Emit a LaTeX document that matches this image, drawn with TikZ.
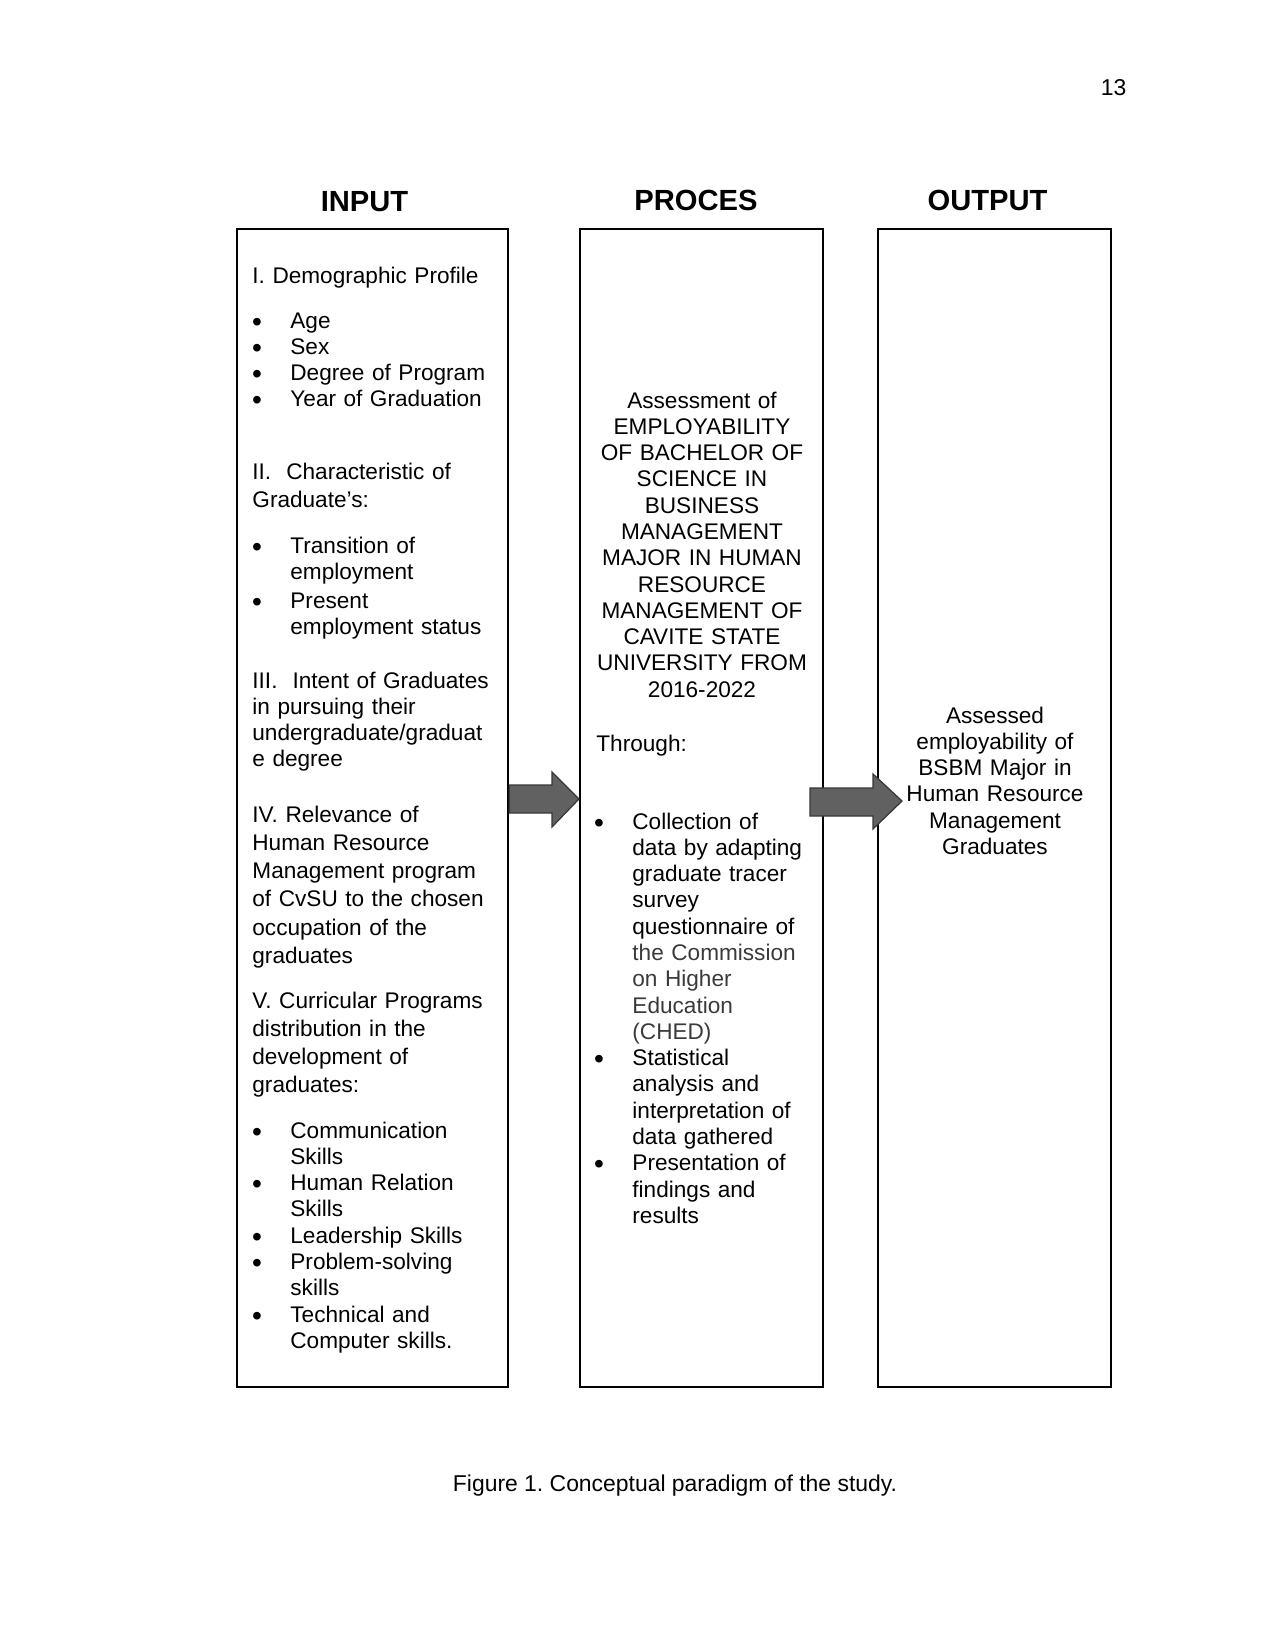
\documentclass[tikz,border=0pt]{standalone}
\usepackage{fontspec}
\setmainfont{Liberation Sans}
\usetikzlibrary{fit}
\frenchspacing
\newcommand{\bodyfont}{\fontsize{10.85}{12.62}\selectfont}
\newcommand{\parafont}{\fontsize{10.85}{13.58}\selectfont}
\definecolor{softgray}{HTML}{3A3A3A}
\begin{document}
\begin{tikzpicture}[x=0.48pt, y=-0.48pt]
\tikzset{
 box/.style={draw, line width=1.2pt, inner sep=0pt},
 pbox/.style={box, line width=1pt},
 ltxt/.style={anchor=base west, inner sep=0pt, text width=150pt, align=left, font=\bodyfont},
 ptxt/.style={ltxt, font=\parafont},
 ctxt/.style={anchor=base, inner sep=0pt, text width=130pt, align=center, font=\bodyfont},
 bul/.style={anchor=base, inner sep=0pt, font=\fontsize{13.5}{14}\selectfont},
 title/.style={anchor=base, inner sep=0pt, font=\fontsize{14}{16}\selectfont\bfseries},
 plain/.style={anchor=base, inner sep=0pt, font=\fontsize{11}{13}\selectfont},
 blockarrow/.style={fill=black!62, draw=black!78, line width=0.6pt, line join=miter},
}
\useasboundingbox (0,0) rectangle (1275,1651);

% page number
\node[plain] (pagenum) at (1113.5,96) {13};

% titles
\node[title] (tin) at (364.5,212) {INPUT};
\node[title] (tpr) at (696,211) {PROCES};
\node[title] (tout) at (987.5,211) {OUTPUT};

% boxes
\node[box, fit={(237,229) (508,1387)}] (inbox) {};
\node[pbox, fit={(580,229) (823,1387)}] (prbox) {};
\node[box, fit={(878,229) (1111,1387)}] (outbox) {};

% input column
\node[ltxt] (in1) at (252,284) {I. Demographic Profile};
\node[ltxt] (in1l) at (290,328) {Age\\Sex\\Degree of Program\\Year of Graduation};
\node[ptxt] (in2) at (252,479) {II.\ \ Characteristic of\\Graduate’s:};
\node[ltxt] (in2a) at (290,553) {Transition of\\employment};
\node[ltxt] (in2b) at (290,608) {Present\\employment status};
\node[ltxt] (in3) at (252,688) {III.\ \ Intent of Graduates\\in pursuing their\\undergraduate/graduat\\e degree};
\node[ptxt] (in4) at (252,822) {IV. Relevance of\\Human Resource\\Management program\\of CvSU to the chosen\\occupation of the\\graduates};
\node[ptxt] (in5) at (252,1008) {V. Curricular Programs\\distribution in the\\development of\\graduates:};
\node[ltxt] (in5l) at (290,1138) {Communication\\Skills\\Human Relation\\Skills\\Leadership Skills\\Problem-solving\\skills\\Technical and\\Computer skills.};
\foreach \yy [count=\i] in {328,354.3,380.6,406.9,553,608,1138,1190.6,1243.2,1269.5,1322.1}
  \node[bul] (ib\i) at (257,\yy+3) {•};

% process column
\node[ctxt] (pr1) at (702,408) {Assessment of\\EMPLOYABILITY\\OF BACHELOR OF\\SCIENCE IN\\BUSINESS\\MANAGEMENT\\MAJOR IN HUMAN\\RESOURCE\\MANAGEMENT OF\\CAVITE STATE\\UNIVERSITY FROM\\2016-2022};
\node[ltxt] (pr2) at (596,751) {Through:};
\node[ltxt] (pr3) at (632,829) {Collection of\\data by adapting\\graduate tracer\\survey\\questionnaire of\\{\color{softgray}the Commission}\\{\color{softgray}on Higher}\\{\color{softgray}Education}\\{\color{softgray}(CHED)}\\Statistical\\analysis and\\interpretation of\\data gathered\\Presentation of\\findings and\\results};
\foreach \yy [count=\i] in {829,1065.7,1170.9}
  \node[bul] (pb\i) at (599,\yy+3) {•};

% output column
\node[ctxt] (out1) at (995,723) {Assessed\\employability of\\BSBM Major in\\Human Resource\\Management\\Graduates};

% block arrows
\filldraw[blockarrow] (inbox.east |- 0,785) -- (552,785) -- (552,772) -- (prbox.west |- 0,799)
  -- (552,827) -- (552,813) -- (inbox.east |- 0,813) -- cycle;
\filldraw[blockarrow] (810,788) -- (873,788) -- (873,774) -- (902,801)
  -- (873,829) -- (873,816) -- (810,816) -- cycle;

% caption
\node[plain] (caption) at (675,1491) {Figure 1. Conceptual paradigm of the study.};
\end{tikzpicture}
\end{document}
